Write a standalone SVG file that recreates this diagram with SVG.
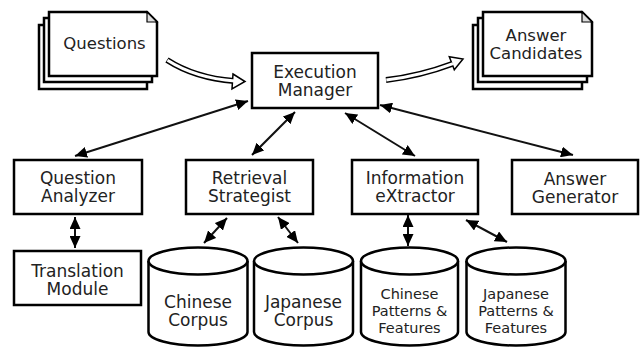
<svg xmlns="http://www.w3.org/2000/svg" width="641" height="347" viewBox="0 0 641 347">
<style>
.box{fill:#fff;stroke:#000;stroke-width:2.5}
.sheet{fill:#fff;stroke:#000;stroke-width:2.5}
.cyl{fill:#fff;stroke:#000;stroke-width:2.5}
.t{font-family:"DejaVu Sans",sans-serif;font-size:17px;fill:#222;text-anchor:middle}
.ts{font-family:"DejaVu Sans",sans-serif;font-size:16.5px;fill:#222;text-anchor:middle}
.tp{font-family:"DejaVu Sans",sans-serif;font-size:14.5px;fill:#222;text-anchor:middle}
.c{stroke:#111;stroke-width:2;fill:none;marker-start:url(#ah);marker-end:url(#ah)}
</style>
<defs>
<marker id="ah" markerUnits="userSpaceOnUse" markerWidth="13" markerHeight="11" refX="12" refY="5.5" orient="auto-start-reverse" viewBox="0 0 13 11">
<path d="M0,0 L12,5.5 L0,11 z" fill="#000"/>
</marker>
</defs>
<g id="questions">
<rect class="sheet" x="39" y="25" width="108" height="64"/>
<rect class="sheet" x="44" y="18" width="108" height="64"/>
<path class="sheet" d="M49,12 H147 L157,22 V76 H49 Z"/>
<path d="M147,12 L147,22 L157,22 Z" fill="#ddd" stroke="#000" stroke-width="1.2"/>
<text class="ts" x="104.5" y="49">Questions</text>
</g>
<g id="answer-candidates">
<rect class="sheet" x="473" y="25" width="109" height="64"/>
<rect class="sheet" x="478" y="18" width="109" height="64"/>
<path class="sheet" d="M483,12 H582 L592,22 V76 H483 Z"/>
<path d="M582,12 L582,22 L592,22 Z" fill="#ddd" stroke="#000" stroke-width="1.2"/>
<text class="ts" x="536" y="41">Answer</text>
<text class="ts" x="536" y="59">Candidates</text>
</g>
<g id="execution-manager">
<rect class="box" x="252" y="53" width="126" height="55"/>
<text class="t" x="315" y="78">Execution</text>
<text class="t" x="315" y="96">Manager</text>
</g>
<g id="question-analyzer">
<rect class="box" x="14" y="160" width="128" height="54"/>
<text class="t" x="78" y="184">Question</text>
<text class="t" x="78" y="202">Analyzer</text>
</g>
<g id="retrieval-strategist">
<rect class="box" x="186" y="160" width="127" height="54"/>
<text class="t" x="249.5" y="184">Retrieval</text>
<text class="t" x="249.5" y="202">Strategist</text>
</g>
<g id="information-extractor">
<rect class="box" x="352" y="160" width="126" height="54"/>
<text class="t" x="415" y="184">Information</text>
<text class="t" x="415" y="202">eXtractor</text>
</g>
<g id="answer-generator">
<rect class="box" x="512" y="160" width="126" height="54"/>
<text class="t" x="575" y="185">Answer</text>
<text class="t" x="575" y="203">Generator</text>
</g>
<g id="translation-module">
<rect class="box" x="14" y="251" width="127" height="54"/>
<text class="t" x="77.5" y="277">Translation</text>
<text class="t" x="77.5" y="295">Module</text>
</g>
<g id="chinese-corpus">
<path class="cyl" d="M148.5,261 V332 A49.5,13.5 0 0 0 247.5,332 V261"/>
<ellipse class="cyl" cx="198" cy="261" rx="49.5" ry="13.5"/>
<text class="t" x="198" y="308">Chinese</text>
<text class="t" x="198" y="326">Corpus</text>
</g>
<g id="japanese-corpus">
<path class="cyl" d="M254,261 V332 A49.5,13.5 0 0 0 353,332 V261"/>
<ellipse class="cyl" cx="303.5" cy="261" rx="49.5" ry="13.5"/>
<text class="t" x="303.5" y="308">Japanese</text>
<text class="t" x="303.5" y="326">Corpus</text>
</g>
<g id="chinese-patterns">
<path class="cyl" d="M361,261 V332 A48.5,13.5 0 0 0 458,332 V261"/>
<ellipse class="cyl" cx="409.5" cy="261" rx="48.5" ry="13.5"/>
<text class="tp" x="409.5" y="299">Chinese</text>
<text class="tp" x="409.5" y="316">Patterns &amp;</text>
<text class="tp" x="409.5" y="333">Features</text>
</g>
<g id="japanese-patterns">
<path class="cyl" d="M466.5,261 V332 A49.5,13.5 0 0 0 565.5,332 V261"/>
<ellipse class="cyl" cx="516" cy="261" rx="49.5" ry="13.5"/>
<text class="tp" x="516" y="299">Japanese</text>
<text class="tp" x="516" y="316">Patterns &amp;</text>
<text class="tp" x="516" y="333">Features</text>
</g>
<g id="connectors">
<line class="c" x1="75" y1="156" x2="248" y2="101"/>
<line class="c" x1="252" y1="155" x2="295" y2="112"/>
<line class="c" x1="415" y1="156" x2="345" y2="113"/>
<line class="c" x1="573" y1="155" x2="380" y2="105"/>
<line class="c" x1="75" y1="217" x2="75" y2="248"/>
<line class="c" x1="227" y1="218" x2="204" y2="243"/>
<line class="c" x1="278" y1="217" x2="298" y2="243"/>
<line class="c" x1="408" y1="215" x2="408" y2="246"/>
<line class="c" x1="466" y1="220" x2="507" y2="242"/>
<g id="flow-in">
<path d="M167,60 Q195,78 234,81" fill="none" stroke="#000" stroke-width="6"/>
<path d="M233,74 L245,81.5 L232,89 Z" fill="#fff" stroke="#000" stroke-width="1.5"/>
<path d="M167.5,60.3 Q195,78 235,81.1" fill="none" stroke="#fff" stroke-width="3"/>
</g>
<g id="flow-out">
<path d="M386,80 Q420,76 452,64" fill="none" stroke="#000" stroke-width="6"/>
<path d="M449.3,56.7 L463,59 L454.3,69.8 Z" fill="#fff" stroke="#000" stroke-width="1.5"/>
<path d="M386.3,80 Q420,76 453,63.6" fill="none" stroke="#fff" stroke-width="3"/>
</g>
</g>
</svg>
